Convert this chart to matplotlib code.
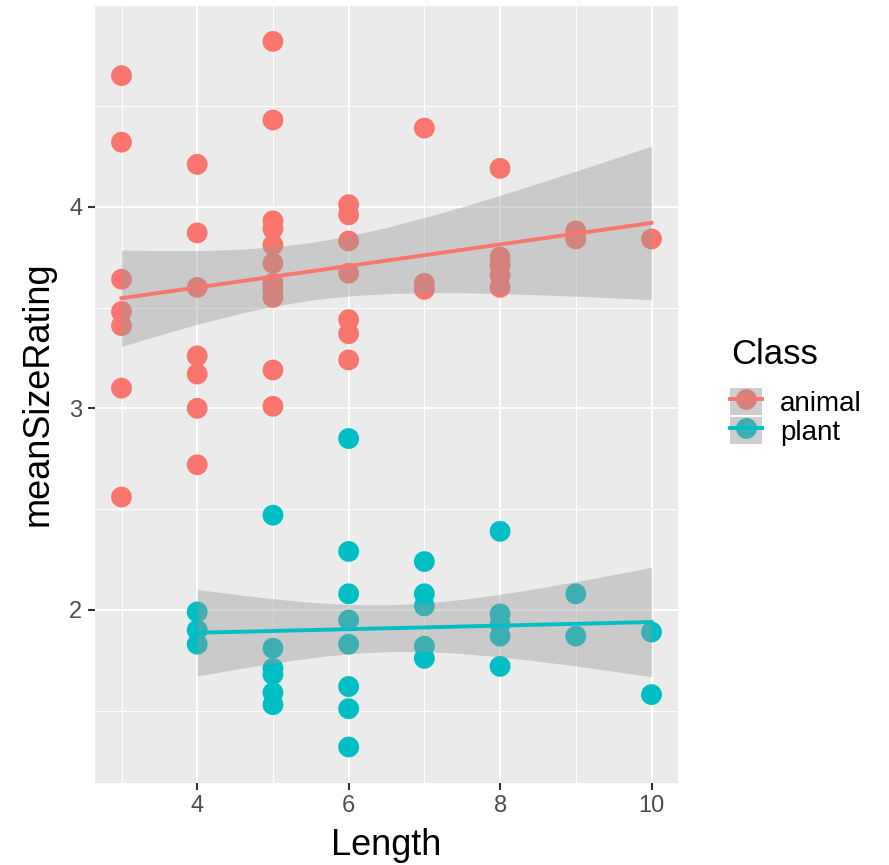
import numpy as np
import matplotlib
matplotlib.use("Agg")
import matplotlib.pyplot as plt
from matplotlib.lines import Line2D
from matplotlib.patches import Patch

plt.rcParams["font.family"] = ["Liberation Sans", "DejaVu Sans"]

# ---- data ----
animal_len = [3, 3, 3, 3, 3, 3, 3,
              4, 4, 4, 4, 4, 4, 4,
              5, 5, 5, 5, 5, 5, 5, 5, 5, 5, 5,
              6, 6, 6, 6, 6, 6, 6,
              7, 7, 7,
              8, 8, 8, 8, 8,
              9, 9,
              10]
animal_rating = [4.65, 4.32, 3.64, 3.48, 3.41, 3.10, 2.56,
                 4.21, 3.87, 3.60, 3.26, 3.17, 3.00, 2.72,
                 4.82, 4.43, 3.93, 3.89, 3.81, 3.72, 3.62, 3.59, 3.55, 3.19, 3.01,
                 4.01, 3.96, 3.83, 3.67, 3.44, 3.37, 3.24,
                 4.39, 3.62, 3.59,
                 4.19, 3.75, 3.71, 3.66, 3.60,
                 3.88, 3.84,
                 3.84]

plant_len = [4, 4, 4,
             5, 5, 5, 5, 5, 5,
             6, 6, 6, 6, 6, 6, 6, 6,
             7, 7, 7, 7, 7,
             8, 8, 8, 8, 8,
             9, 9,
             10, 10]
plant_rating = [1.99, 1.90, 1.83,
                2.47, 1.81, 1.71, 1.68, 1.59, 1.53,
                2.85, 2.29, 2.08, 1.95, 1.83, 1.62, 1.51, 1.32,
                2.24, 2.08, 2.02, 1.82, 1.76,
                2.39, 1.98, 1.93, 1.87, 1.72,
                2.08, 1.87,
                1.89, 1.58]

CLASSES = ["animal", "plant"]
COLORS = {"animal": "#F8766D", "plant": "#00BFC4"}
DATA = {"animal": (animal_len, animal_rating), "plant": (plant_len, plant_rating)}


def t975(df):
    z = 1.959964
    return z + (z**3 + z) / (4 * df) + (5 * z**5 + 16 * z**3 + 3 * z) / (96 * df**2)


def lm_band(x, y, grid):
    x = np.asarray(x, float); y = np.asarray(y, float)
    n = len(x)
    b, a = np.polyfit(x, y, 1)
    res = y - (a + b * x)
    s = np.sqrt((res ** 2).sum() / (n - 2))
    sxx = ((x - x.mean()) ** 2).sum()
    fit = a + b * grid
    se = s * np.sqrt(1 / n + (grid - x.mean()) ** 2 / sxx)
    t = t975(n - 2)
    return fit, fit - t * se, fit + t * se


W, H = 889, 865
fig = plt.figure(figsize=(W / 100, H / 100), dpi=100)
ax = fig.add_axes([95 / W, 1 - 782.5 / H, (678 - 95) / W, (782.5 - 5.5) / H])
ax.set_facecolor("#EBEBEB")
for s in ax.spines.values():
    s.set_visible(False)

ax.set_xlim(2.65, 10.35)
ax.set_ylim(1.144, 4.998)
ax.set_xticks([4, 6, 8, 10])
ax.set_xticks([3, 5, 7, 9], minor=True)
ax.set_yticks([2, 3, 4])
ax.set_yticks([1.5, 2.5, 3.5, 4.5], minor=True)
ax.grid(which="major", color="white", lw=1.5)
ax.grid(which="minor", color="white", lw=0.75)
ax.set_axisbelow(True)
ax.tick_params(which="major", length=5, width=1.5, color="#333333",
               labelsize=17, labelcolor="#4D4D4D", pad=4)
ax.tick_params(which="minor", length=0)

for cl in CLASSES:
    x, y = DATA[cl]
    ax.scatter(x, y, s=225, color=COLORS[cl], edgecolors="none", zorder=2)

for cl in CLASSES:
    x, y = DATA[cl]
    g = np.linspace(min(x), max(x), 80)
    fit, lo, hi = lm_band(x, y, g)
    ax.fill_between(g, lo, hi, color="#999999", alpha=0.4, lw=0, zorder=3)
    ax.plot(g, fit, color=COLORS[cl], lw=2.8, zorder=4)

ax.set_xlabel("Length", fontsize=26, labelpad=8)
ax.set_ylabel("meanSizeRating", fontsize=26, labelpad=10)

handles = []
for cl in CLASSES:
    handles.append((Patch(facecolor="#F2F2F2", edgecolor="none"),
                    Line2D([], [], ls="none", marker="o", ms=15, color=COLORS[cl],
                           markeredgewidth=0),
                    Patch(facecolor="#999999", alpha=0.4, edgecolor="none"),
                    Line2D([], [], color=COLORS[cl], lw=2.8)))
leg = fig.legend(handles, CLASSES, loc="upper left",
                 bbox_to_anchor=(730 / W, 1 - 388 / H),
                 fontsize=20, frameon=False,
                 handlelength=1.15, handleheight=1.12, labelspacing=0.0,
                 handletextpad=0.65, borderpad=0, borderaxespad=0)
fig.text(731 / W, 1 - 355 / H, "Class", fontsize=25, ha="left", va="center")

fig.savefig("out.png", dpi=100)
